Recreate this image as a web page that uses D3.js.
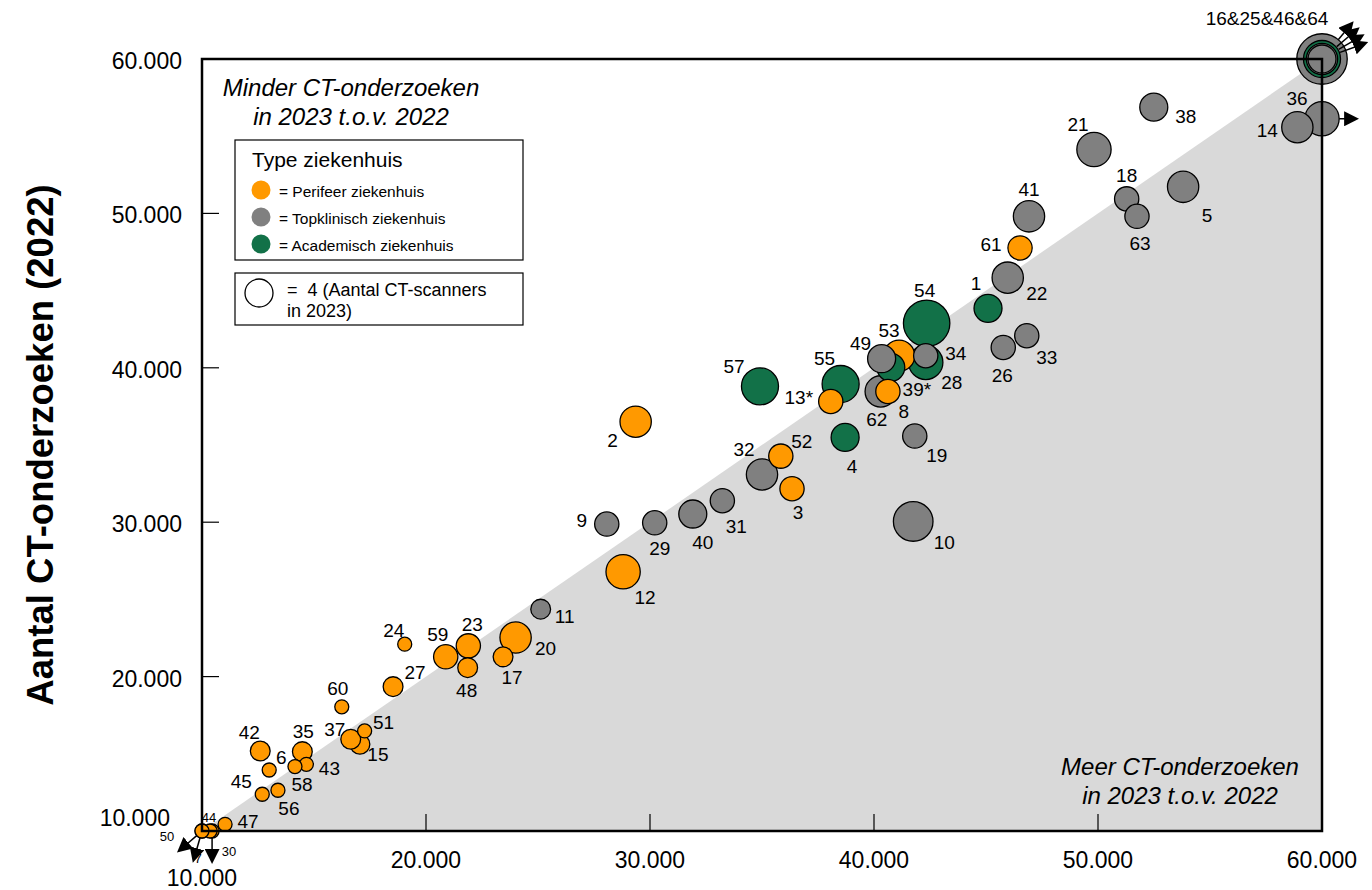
<!DOCTYPE html>
<html lang="nl">
<head>
<meta charset="UTF-8">
<title>CT-onderzoeken 2022 vs 2023</title>
<script src="https://d3js.org/d3.v7.min.js"></script>
<style>
  body { margin: 0; background: #fff; }
  text { font-family: Arial, "Liberation Sans", sans-serif; fill: #000; white-space: pre; }
  .bubble { stroke: #000; stroke-width: 1.3px; }
  .lbl { font-size: 19px; }
  .lbl-small { font-size: 13px; }
  .tick-label { font-size: 23px; }
  .note { font-size: 24px; font-style: italic; }
</style>
</head>
<body>
<svg width="1372" height="890"></svg>
<script>
// ziekenhuisnummer
const hospitalIds = ["1","2","3","4","5","6","7","8","9","10","11","12","13*","14","15","16","17","18","19","20",
  "21","22","23","24","25","26","27","28","29","30","31","32","33","34","35","36","37","38","39*","40",
  "41","42","43","44","45","46","47","48","49","50","51","52","53","54","55","56","57","58","59","60",
  "61","62","63","64"];
// aantal CT-onderzoeken 2023 (x)
const ct2023 = [45090,29360,36340,38710,53800,13000,9700,40750,28070,41750,25120,28800,38070,58900,17050,61000,23440,51280,41820,24000,
  49820,45970,21890,19050,61000,45770,18530,42310,30210,10450,33230,35000,46820,42310,14480,61000,16640,52490,40620,31910,
  46920,12600,14660,10360,12690,61000,11030,21860,40340,9200,17260,35840,41120,42350,38510,13390,34910,14150,20880,16240,
  46520,40300,51740,61000];
// aantal CT-onderzoeken 2022 (y)
const ct2022 = [43850,36510,32170,35490,51720,13950,8500,40030,29880,30050,24370,26790,37820,55580,15620,61730,21280,50940,35580,22530,
  54140,45840,21990,22100,61220,41320,19350,40350,29960,9000,31390,33090,42080,40780,15140,56130,15940,56880,38470,30530,
  49810,15180,14320,10000,12380,60840,10430,20580,40590,9000,16480,34280,40780,42880,38950,12640,38800,14170,21280,18040,
  47760,38470,49810,60530];
// P = perifeer, T = topklinisch, A = academisch
const hospitalType = ["A","P","P","A","T","P","P","A","T","T","T","P","P","T","P","T","P","T","T","P",
  "T","T","P","P","A","T","P","A","T","P","T","T","T","T","P","T","P","T","P","T",
  "T","P","P","P","P","T","P","P","T","P","P","P","P","A","A","P","A","P","P","P",
  "P","T","T","T"];
// aantal CT-scanners 2023
const ctScanners = [4,5,3,4,5,1,1,4,3,8,2,6,3,5,2,13,2,3,3,5,
  6,5,3,1,7,3,2,6,3,1,3,5,3,3,2,6,2,4,3,4,
  5,2,1,1,1,5,1,2,4,1,1,3,5,11,7,1,7,1,3,1,
  3,5,3,4];

const typeNames = ["Perifeer ziekenhuis", "Topklinisch ziekenhuis", "Academisch ziekenhuis"];
const typeCodes = ["P", "T", "A"];
const axisTicks = [10000, 20000, 30000, 40000, 50000, 60000];

// label placement (pixel offset from the bubble centre)
const labelOffset = {
  "1":[-12,-25],"2":[-23,19],"3":[6,24],"4":[7,29],"5":[24,29],"6":[12,-13],"7":[-4,27],"8":[13,44],
  "9":[-25,-4],"10":[31,21],"11":[24,7],"12":[22,26],"13*":[-32,-4],"14":[-30,3],"15":[18,10],
  "16":[-55,-41],"17":[9,21],"18":[0,-23],"19":[22,19],"20":[30,11],"21":[-16,-25],"22":[29,16],
  "23":[4,-21],"24":[-11,-14],"26":[-1,28],"27":[22,-14],"28":[26,20],"29":[5,26],"30":[17,20],
  "31":[14,26],"32":[-18,-25],"33":[20,22],"34":[30,-2],"35":[1,-20],"36":[-25,-20],"37":[-16,-10],
  "38":[32,9],"39*":[29,-2],"40":[10,28],"41":[0,-27],"42":[-11,-19],"43":[23,4],"44":[-1,-14],
  "45":[-21,-13],"47":[23,-3],"48":[-1,23],"49":[-21,-15],"50":[-35,5],"51":[19,-8],"52":[21,-15],
  "53":[-10,-25],"54":[-2,-33],"55":[-16,-26],"56":[11,18],"57":[-26,-20],"58":[7,18],"59":[-8,-22],
  "60":[-4,-18],"61":[-29,-3],"62":[-4,28],"63":[3,27]
};
const mergedLabel = { "16": "16&25&46&64" };
const smallLabels = ["7", "30", "44", "50"];

const colors = { P: "#ff9900", T: "#808080", A: "#127148" };

const svg = d3.select("svg");
const plotLeft = 202, plotRight = 1322, plotTop = 59, plotBottom = 831;
const x = d3.scaleLinear().domain([10000, 60000]).range([plotLeft, plotRight]);
const y = d3.scaleLinear().domain([10000, 60000]).range([plotBottom, plotTop]);
const r = d3.scaleSqrt().domain([0, 4]).range([0, 14]);
const fmt = d => d3.format(",")(d).replace(/,/g, ".");

const clampV = v => Math.max(10000, Math.min(60000, v));

// shaded area: more exams in 2023
svg.append("path")
  .attr("d", `M${x(10000)},${y(10000)}L${x(60000)},${y(60000)}L${x(60000)},${y(10000)}Z`)
  .attr("fill", "#d9d9d9");

// inside ticks
svg.append("g").selectAll("line").data(axisTicks.slice(1, -1)).join("line")
  .attr("x1", d => x(d)).attr("x2", d => x(d))
  .attr("y1", plotBottom).attr("y2", plotBottom - 17)
  .attr("stroke", "#000").attr("stroke-width", 1.2);
svg.append("g").selectAll("line").data(axisTicks.slice(1, -1)).join("line")
  .attr("x1", plotLeft).attr("x2", plotLeft + 17)
  .attr("y1", d => y(d)).attr("y2", d => y(d))
  .attr("stroke", "#000").attr("stroke-width", 1.2);

// tick labels
svg.append("g").selectAll("text").data(axisTicks).join("text")
  .attr("class", "tick-label")
  .attr("x", d => x(d))
  .attr("y", d => d === 10000 ? 878 : 860)
  .attr("text-anchor", "middle")
  .attr("dominant-baseline", "central")
  .text(fmt);
svg.append("g").selectAll("text").data(axisTicks).join("text")
  .attr("class", "tick-label")
  .attr("x", d => d === 10000 ? 170 : 182)
  .attr("y", d => d === 10000 ? 818 : y(d) + 2)
  .attr("text-anchor", "end")
  .attr("dominant-baseline", "central")
  .text(fmt);

svg.append("text")
  .attr("transform", "translate(40,445) rotate(-90)")
  .attr("text-anchor", "middle")
  .attr("dominant-baseline", "central")
  .style("font-size", "36.5px")
  .style("font-weight", "bold")
  .text("Aantal CT-onderzoeken (2022)");

// annotations
const notes = [
  { cx: 351, lines: ["Minder CT-onderzoeken", "in 2023 t.o.v. 2022"], y0: 87 },
  { cx: 1180, lines: ["Meer CT-onderzoeken", "in 2023 t.o.v. 2022"], y0: 766 }
];
notes.forEach(n => {
  n.lines.forEach((l, i) => {
    svg.append("text").attr("class", "note")
      .attr("x", n.cx).attr("y", n.y0 + i * 29)
      .attr("text-anchor", "middle").attr("dominant-baseline", "central")
      .text(l);
  });
});

// legend: type
const lg = svg.append("g");
lg.append("rect").attr("x", 235).attr("y", 140).attr("width", 288).attr("height", 120)
  .attr("fill", "#fff").attr("stroke", "#000").attr("stroke-width", 1.2);
lg.append("text").attr("x", 252).attr("y", 159).attr("dominant-baseline", "central")
  .style("font-size", "21px").text("Type ziekenhuis");
typeCodes.forEach((c, i) => {
  lg.append("circle").attr("cx", 261).attr("cy", 190 + i * 27).attr("r", 9.5)
    .attr("fill", colors[c]);
  lg.append("text").attr("x", 279).attr("y", 191 + i * 27).attr("dominant-baseline", "central")
    .style("font-size", "15.5px").text("= " + typeNames[i]);
});
// legend: size
lg.append("rect").attr("x", 235).attr("y", 273).attr("width", 288).attr("height", 52)
  .attr("fill", "#fff").attr("stroke", "#000").attr("stroke-width", 1.2);
lg.append("circle").attr("cx", 259).attr("cy", 293).attr("r", r(4))
  .attr("fill", "#fff").attr("stroke", "#000").attr("stroke-width", 1.3);
lg.append("text").attr("x", 287).attr("y", 290).attr("dominant-baseline", "central")
  .style("font-size", "18px").text("=  4 (Aantal CT-scanners");
lg.append("text").attr("x", 287).attr("y", 311).attr("dominant-baseline", "central")
  .style("font-size", "18px").text("in 2023)");

// data
const points = hospitalIds.map((id, i) => ({
  id, x: ct2023[i], y: ct2022[i], type: hospitalType[i], n: ctScanners[i], idx: i
}));
points.forEach(p => {
  p.cx = x(clampV(p.x));
  p.cy = y(clampV(p.y));
  p.rad = r(p.n);
  p.out = p.x !== clampV(p.x) || p.y !== clampV(p.y);
});
const drawOrder = points.slice().sort((a, b) => d3.descending(a.n, b.n) || d3.ascending(a.idx, b.idx));

svg.append("g").selectAll("circle").data(drawOrder).join("circle")
  .attr("class", "bubble")
  .attr("cx", d => d.cx).attr("cy", d => d.cy).attr("r", d => d.rad)
  .attr("fill", d => colors[d.type]);

// arrows for values outside the axis range
svg.append("defs").append("marker")
  .attr("id", "arrow").attr("viewBox", "0 -5 10 10")
  .attr("refX", 2).attr("refY", 0)
  .attr("markerUnits", "userSpaceOnUse")
  .attr("markerWidth", 15).attr("markerHeight", 15)
  .attr("orient", "auto")
  .append("path").attr("d", "M0,-5L10,0L0,5Z").attr("fill", "#000");

const outside = points.filter(p => p.out);
const arrowG = svg.append("g");
outside.forEach(p => {
  const dx = x(p.x) - p.cx, dy = y(p.y) - p.cy;
  const len = Math.hypot(dx, dy);
  const ux = dx / len, uy = dy / len;
  // arrows of stacked bubbles start at the outer edge of the stack
  const stack = outside.filter(q => Math.hypot(q.cx - p.cx, q.cy - p.cy) < 4);
  const outerR = d3.max(stack, q => q.rad);
  const start = Math.max(p.rad, outerR - 6);
  const end = outerR + (outerR < 10 ? 14 : (stack.length > 1 ? 12 : 8));
  arrowG.append("line")
    .attr("x1", p.cx + ux * start).attr("y1", p.cy + uy * start)
    .attr("x2", p.cx + ux * end).attr("y2", p.cy + uy * end)
    .attr("stroke", "#000").attr("stroke-width", 1.5)
    .attr("marker-end", "url(#arrow)");
});

// labels
svg.append("g").selectAll("text").data(points.filter(p => labelOffset[p.id])).join("text")
  .attr("class", d => smallLabels.includes(d.id) ? "lbl-small" : "lbl")
  .attr("x", d => d.cx + labelOffset[d.id][0])
  .attr("y", d => d.cy + labelOffset[d.id][1])
  .attr("text-anchor", "middle")
  .attr("dominant-baseline", "central")
  .text(d => mergedLabel[d.id] || d.id);

// plot frame
svg.append("rect")
  .attr("x", plotLeft).attr("y", plotTop).attr("width", plotRight - plotLeft).attr("height", plotBottom - plotTop)
  .attr("fill", "none").attr("stroke", "#000").attr("stroke-width", 2.5);
</script>
</body>
</html>
